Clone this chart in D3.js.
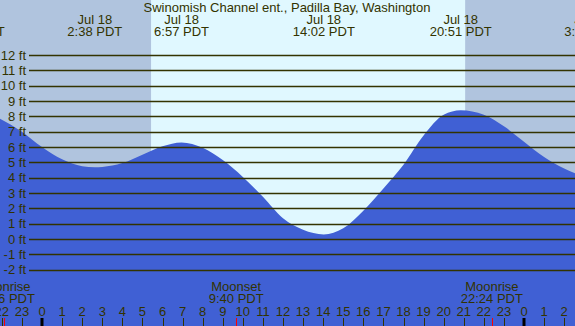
<!DOCTYPE html>
<html>
<head>
<meta charset="utf-8">
<script src="https://cdn.jsdelivr.net/npm/d3@7"></script>
<style>
  html, body { margin: 0; padding: 0; background: #fff; }
  svg { display: block; font-family: "Liberation Sans", Arial, sans-serif; }
</style>
</head>
<body>
<div id="chart"></div>
<script>
// Tide chart: Swinomish Channel ent., Padilla Bay
const width = 575;
const height = 326;
const title = 'Swinomish Channel ent., Padilla Bay, Washington';

// hours since midnight Jul 18 (negative = Jul 17, >24 = Jul 19)
const tideHours = [-2.1, -1, 0, 1, 2, 2.63, 3, 4, 5, 6, 6.95, 8, 9, 10, 11, 12, 13, 14.03, 15, 16, 17, 18, 19, 20, 20.85, 22, 23, 24, 25, 26, 26.6];
const tideFeet  = [7.85, 7.0, 6.0, 5.2, 4.75, 4.68, 4.7, 4.95, 5.5, 6.05, 6.3, 5.95, 5.15, 4.05, 2.75, 1.35, 0.6, 0.3, 0.7, 1.85, 3.3, 4.85, 6.75, 8.1, 8.4, 8.1, 7.35, 6.35, 5.35, 4.6, 4.25];

const feetTicks = [-2, -1, 0, 1, 2, 3, 4, 5, 6, 7, 8, 9, 10, 11, 12];

// high / low tide labels along the top
const eventHours = [-3.4, 2.63, 6.95, 14.03, 20.85, 27.37];
const eventDates = ['Jul 17', 'Jul 18', 'Jul 18', 'Jul 18', 'Jul 18', 'Jul 19'];
const eventTimes = ['20:36 PDT', '2:38 PDT', '6:57 PDT', '14:02 PDT', '20:51 PDT', '3:22 PDT'];

// moon rise / set
const moonHours = [-1.9, 9.67, 22.4];
const moonNames = ['Moonrise', 'Moonset', 'Moonrise'];
const moonTimes = ['22:06 PDT', '9:40 PDT', '22:24 PDT'];

// daylight
const sunrise = 5.43;
const sunset = 21.07;

const hourTicks = d3.range(-2, 27);

const x = d3.scaleLinear().domain([0, 24]).range([42, 524]);
const y = d3.scaleLinear().domain([0, 12]).range([239, 55]);

const nightColor = '#b0c4de';
const dayColor = '#e0f8ff';
const waterColor = '#4060d4';
const inkColor = '#333300';

const svg = d3.select('#chart').append('svg')
    .attr('width', width)
    .attr('height', height);

// night / day background
svg.append('rect').attr('x', 0).attr('y', 0).attr('width', width).attr('height', height).attr('fill', nightColor);
svg.append('rect')
    .attr('x', x(sunrise)).attr('y', 0)
    .attr('width', x(sunset) - x(sunrise)).attr('height', height)
    .attr('fill', dayColor);

// tide area down to the bottom
const tide = tideHours.map((h, i) => ({ h, v: tideFeet[i] }));
const area = d3.area()
    .x(d => x(d.h))
    .y0(height)
    .y1(d => y(d.v))
    .curve(d3.curveMonotoneX);
svg.append('path').datum(tide).attr('d', area).attr('fill', waterColor);

// horizontal feet lines on top
svg.selectAll('.grid')
    .data(feetTicks)
    .enter().append('line')
    .attr('class', 'grid')
    .attr('x1', 29).attr('x2', width)
    .attr('y1', d => Math.round(y(d)) + 0.5)
    .attr('y2', d => Math.round(y(d)) + 0.5)
    .attr('stroke', inkColor)
    .attr('stroke-width', 1.5);

svg.selectAll('.ftlabel')
    .data(feetTicks)
    .enter().append('text')
    .attr('x', 26)
    .attr('y', d => y(d) + 4.5)
    .attr('text-anchor', 'end')
    .attr('fill', inkColor)
    .style('font-size', '13px')
    .text(d => `${d} ft`);

// title + tide extremes
svg.append('text')
    .attr('x', 287).attr('y', 12)
    .attr('text-anchor', 'middle')
    .attr('fill', inkColor)
    .style('font-size', '13px')
    .text(title);

const ev = svg.selectAll('.event')
    .data(eventHours)
    .enter().append('g')
    .attr('class', 'event');
ev.append('text')
    .attr('x', d => x(d)).attr('y', 24)
    .attr('text-anchor', 'middle').attr('fill', inkColor)
    .style('font-size', '13px')
    .text((d, i) => eventDates[i]);
ev.append('text')
    .attr('x', d => x(d)).attr('y', 36)
    .attr('text-anchor', 'middle').attr('fill', inkColor)
    .style('font-size', '13px')
    .text((d, i) => eventTimes[i]);

// moon labels at the bottom
const moon = svg.selectAll('.moon')
    .data(moonHours)
    .enter().append('g')
    .attr('class', 'moon');
moon.append('text')
    .attr('x', d => x(d)).attr('y', 291)
    .attr('text-anchor', 'middle').attr('fill', inkColor)
    .style('font-size', '13px')
    .text((d, i) => moonNames[i]);
moon.append('text')
    .attr('x', d => x(d)).attr('y', 303)
    .attr('text-anchor', 'middle').attr('fill', inkColor)
    .style('font-size', '13px')
    .text((d, i) => moonTimes[i]);

// hour axis
svg.selectAll('.hlabel')
    .data(hourTicks)
    .enter().append('text')
    .attr('x', d => x(d)).attr('y', 316)
    .attr('text-anchor', 'middle').attr('fill', inkColor)
    .style('font-size', '13px')
    .text(d => ((d % 24) + 24) % 24);

svg.selectAll('.htick')
    .data(hourTicks)
    .enter().append('rect')
    .attr('x', d => (d % 24 === 0) ? Math.round(x(d)) - 1.5 : Math.round(x(d)))
    .attr('y', 318)
    .attr('width', d => (d % 24 === 0) ? 3 : 1)
    .attr('height', 8)
    .attr('fill', d => (d % 24 === 0) ? '#000' : inkColor);

svg.selectAll('.mtick')
    .data(moonHours)
    .enter().append('rect')
    .attr('x', d => Math.round(x(d)))
    .attr('y', 318)
    .attr('width', 1).attr('height', 8)
    .attr('fill', 'red');
</script>
</body>
</html>
